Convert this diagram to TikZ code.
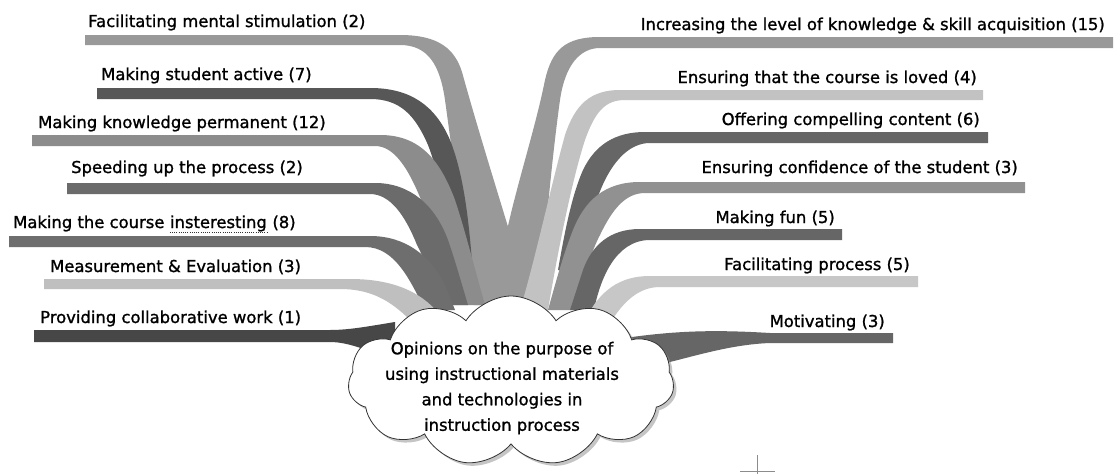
\documentclass[tikz,border=0pt]{standalone}
\usepackage{fontspec}
\setmainfont{DejaVu Sans}
\newfontfamily\lblfont{DejaVu Sans}[FakeBold=1.2]
\usetikzlibrary{shapes.symbols,shadows,calc}
\definecolor{gFac}{gray}{0.60}
\definecolor{gAct}{gray}{0.34}
\definecolor{gPerm}{gray}{0.55}
\definecolor{gSpeed}{gray}{0.42}
\definecolor{gInt}{gray}{0.43}
\definecolor{gMeas}{gray}{0.75}
\definecolor{gColl}{gray}{0.28}
\definecolor{gInc}{gray}{0.60}
\definecolor{gLove}{gray}{0.76}
\definecolor{gOff}{gray}{0.40}
\definecolor{gConf}{gray}{0.57}
\definecolor{gFun}{gray}{0.40}
\definecolor{gProc}{gray}{0.78}
\definecolor{gMot}{gray}{0.40}
\begin{document}
\begin{tikzpicture}[x=1pt,y=-1pt,
  lbl/.style={inner sep=0pt, font=\lblfont\fontsize{16.4}{18}\selectfont, text=black},
  cloudbox/.style={cloud, cloud puffs=11, cloud puff arc=115, aspect=1.9,
    draw=black!80, fill=white, line width=0.8pt, inner sep=0pt,
    minimum width=326pt, minimum height=170pt,
    drop shadow={shadow xshift=3pt, shadow yshift=-3pt, fill=black!45}},
  centertext/.style={inner sep=0pt, align=center, font=\lblfont\fontsize{16.4}{25.5}\selectfont},
  crossmark/.style={draw=black!45, line width=0.6pt},
  dotline/.style={draw=black!80, line width=0.9pt, dash pattern=on 0.9pt off 1.3pt}
]
\useasboundingbox (0,0) rectangle (1114,474);
\fill[white] (0,0) rectangle (1114,474);

% ---------- left bands ----------
\fill[gFac] (85,35) -- (400,35) .. controls (440,35) and (455,50) .. (462,72)
  .. controls (478,130) and (500,200) .. (512,240) -- (518,305) -- (474,305)
  .. controls (462,230) and (452,150) .. (445,100)
  .. controls (440,65) and (428,45) .. (400,45) -- (85,45) -- cycle;
\fill[gAct] (97,88) -- (370,88) .. controls (410,88) and (435,105) .. (450,140)
  .. controls (462,170) and (468,210) .. (472,262) -- (448,262)
  .. controls (445,210) and (438,170) .. (428,145)
  .. controls (415,115) and (400,99) .. (370,99) -- (97,99) -- cycle;
\fill[gPerm] (32,135) -- (380,135) .. controls (420,135) and (440,160) .. (455,200)
  .. controls (465,230) and (475,270) .. (485,305) -- (452,305)
  .. controls (445,270) and (435,235) .. (425,210)
  .. controls (410,170) and (395,146) .. (375,146) -- (32,146) -- cycle;
\fill[gSpeed] (67,183) -- (375,183) .. controls (410,183) and (435,205) .. (448,240)
  .. controls (455,260) and (462,285) .. (468,305) -- (440,305)
  .. controls (432,280) and (425,260) .. (417,245)
  .. controls (405,215) and (390,194) .. (370,194) -- (67,194) -- cycle;
\fill[gInt] (9,236) -- (370,236) .. controls (405,236) and (430,255) .. (445,285)
  -- (455,310) -- (425,310)
  .. controls (410,280) and (395,247) .. (365,247) -- (9,247) -- cycle;
\fill[gMeas] (44,279) -- (350,279) .. controls (390,279) and (420,290) .. (440,315)
  -- (410,320) .. controls (390,300) and (370,289) .. (340,289) -- (44,289) -- cycle;
\fill[gColl] (34,330) -- (330,330) .. controls (350,330) and (370,326) .. (395,322)
  -- (395,360) .. controls (370,352) and (350,342) .. (330,342) -- (34,342) -- cycle;

% ---------- right bands ----------
\fill[gInc] (1113,37) -- (600,37) .. controls (565,37) and (552,50) .. (545,80)
  .. controls (535,130) and (515,190) .. (505,240) -- (500,305) -- (540,305)
  .. controls (545,230) and (553,150) .. (560,100)
  .. controls (565,65) and (580,48) .. (600,48) -- (1113,48) -- cycle;
\fill[gLove] (983,90) -- (620,90) .. controls (590,90) and (575,105) .. (565,135)
  .. controls (550,190) and (535,260) .. (520,310) -- (548,310)
  .. controls (558,250) and (572,180) .. (585,140)
  .. controls (595,112) and (605,100) .. (625,100) -- (983,100) -- cycle;
\fill[gOff] (988,132) -- (645,132) .. controls (615,132) and (595,145) .. (583,170)
  .. controls (572,195) and (565,230) .. (558,270) -- (580,270)
  .. controls (585,235) and (595,200) .. (605,180)
  .. controls (615,160) and (630,143) .. (650,143) -- (988,143) -- cycle;
\fill[gConf] (1025,182) -- (640,182) .. controls (605,182) and (585,200) .. (573,230)
  .. controls (563,255) and (555,285) .. (548,310) -- (575,310)
  .. controls (582,280) and (592,250) .. (600,235)
  .. controls (612,210) and (625,193) .. (645,193) -- (1025,193) -- cycle;
\fill[gFun] (842,229) -- (640,229) .. controls (610,229) and (592,245) .. (583,270)
  -- (570,310) -- (594,310)
  .. controls (600,280) and (615,240) .. (650,240) -- (842,240) -- cycle;
\fill[gProc] (918,276) -- (650,276) .. controls (620,276) and (600,290) .. (585,320)
  -- (612,320) .. controls (625,300) and (640,287) .. (660,287) -- (918,287) -- cycle;
\fill[gMot] (893,333) -- (770,333) .. controls (720,330) and (680,330) .. (625,338)
  -- (625,372) .. controls (680,362) and (720,345) .. (770,343) -- (893,343) -- cycle;

% ---------- centre cloud ----------
\node[cloudbox] (c) at (511,381) {};
\node[centertext] (ct) at (502,388) {Opinions on the purpose of\\using instructional materials\\and technologies in\\instruction process};

% ---------- labels ----------
\node[lbl, anchor=base west] (l1) at (88,27) {Facilitating mental stimulation (2)};
\node[lbl, anchor=base west] (l2) at (101,80) {Making student active (7)};
\node[lbl, anchor=base west] (l3) at (38,128) {Making knowledge permanent (12)};
\node[lbl, anchor=base west] (l4) at (71,173) {Speeding up the process (2)};
\node[lbl, anchor=base west] (l5a) at (13,228) {Making the course};
\node[lbl, anchor=base west, xshift=5.2pt] (l5b) at (l5a.base east) {insteresting};
\node[lbl, anchor=base west, xshift=5.2pt] (l5c) at (l5b.base east) {(8)};
\draw[dotline] ($(l5b.base west)+(0,4)$) -- ($(l5b.base east)+(0,4)$);
\node[lbl, anchor=base west] (l6) at (50,272) {Measurement \& Evaluation (3)};
\node[lbl, anchor=base west] (l7) at (40,323) {Providing collaborative work (1)};

\node[lbl, anchor=base east] (r1) at (1105,30) {Increasing the level of knowledge \& skill acquisition (15)};
\node[lbl, anchor=base east] (r2) at (977,83) {Ensuring that the course is loved (4)};
\node[lbl, anchor=base east] (r3) at (980,125) {Offering compelling content (6)};
\node[lbl, anchor=base east] (r4) at (1018,173) {Ensuring confidence of the student (3)};
\node[lbl, anchor=base east] (r5) at (835,223) {Making fun (5)};
\node[lbl, anchor=base east] (r6) at (910,270) {Facilitating process (5)};
\node[lbl, anchor=base east] (r7) at (885,327) {Motivating (3)};

% ---------- small cross mark ----------
\coordinate (mt) at (757,455);
\coordinate (mb) at (757,474);
\coordinate (ml) at (740,471);
\coordinate (mr) at (775,471);
\draw[crossmark] (mt) -- (mb);
\draw[crossmark] (ml) -- (mr);
\end{tikzpicture}
\end{document}
